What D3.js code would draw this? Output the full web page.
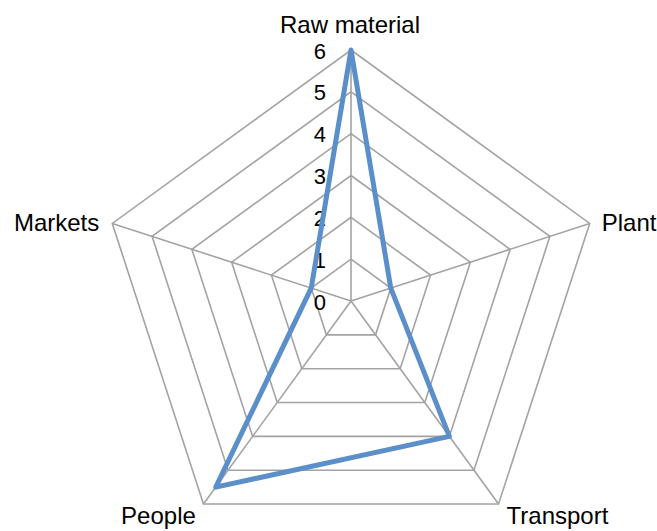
<!DOCTYPE html>
<html>
<head>
<meta charset="utf-8">
<script src="https://cdn.jsdelivr.net/npm/d3@7"></script>
<style>
  html, body { margin: 0; padding: 0; background: #fff; }
  svg { display: block; }
  text { font-family: "Liberation Sans", Arial, sans-serif; fill: #000; }
</style>
</head>
<body>
<svg id="chart" width="657" height="531"></svg>
<script>
const categories = ["Raw material", "Plant", "Transport", "People", "Markets"];
const values = [6, 1, 4, 5.5, 1];
const tickValues = [0, 1, 2, 3, 4, 5, 6];

const cx = 351, cy = 301, R = 251;
const svg = d3.select("#chart");
const g = svg.append("g").attr("transform", `translate(${cx},${cy})`);

const r = d3.scaleLinear().domain([0, 6]).range([0, R]);
const angle = d3.scaleLinear().domain([0, categories.length]).range([0, 2 * Math.PI]);
const pt = (i, v) => [r(v) * Math.sin(angle(i)), -r(v) * Math.cos(angle(i))];

const gridColor = "#a3a3a3";

// rings
const ringLine = d3.line().curve(d3.curveLinearClosed);
tickValues.filter(t => t > 0).forEach(t => {
  g.append("path")
    .attr("d", ringLine(categories.map((c, i) => pt(i, t))))
    .attr("fill", "none")
    .attr("stroke", gridColor)
    .attr("stroke-width", 1.6);
});

// spokes
categories.forEach((c, i) => {
  const [x, y] = pt(i, 6);
  g.append("line")
    .attr("x1", 0).attr("y1", 0).attr("x2", x).attr("y2", y)
    .attr("stroke", gridColor).attr("stroke-width", 1.6);
});

// tick labels
tickValues.forEach(t => {
  g.append("text")
    .attr("x", -25)
    .attr("y", -r(t) + 8.5)
    .attr("text-anchor", "end")
    .style("font-size", "22px")
    .text(t);
});

// category labels (offsets from outer vertex to text baseline)
const labelPos = [
  { dx: -1, dy: -17, anchor: "middle" },
  { dx: 12, dy: 7.5, anchor: "start" },
  { dx: 8, dy: 20, anchor: "start" },
  { dx: -45, dy: 20, anchor: "middle" },
  { dx: -13, dy: 7.5, anchor: "end" }
];
categories.forEach((c, i) => {
  const [x, y] = pt(i, 6);
  const p = labelPos[i];
  g.append("text")
    .attr("x", x + p.dx)
    .attr("y", y + p.dy)
    .attr("text-anchor", p.anchor)
    .style("font-size", "24px")
    .text(c);
});

// data line
g.append("path")
  .attr("d", ringLine(values.map((v, i) => pt(i, v))))
  .attr("fill", "none")
  .attr("stroke", "#5b8fc9")
  .attr("stroke-width", 5)
  .attr("stroke-linejoin", "round");
</script>
</body>
</html>
